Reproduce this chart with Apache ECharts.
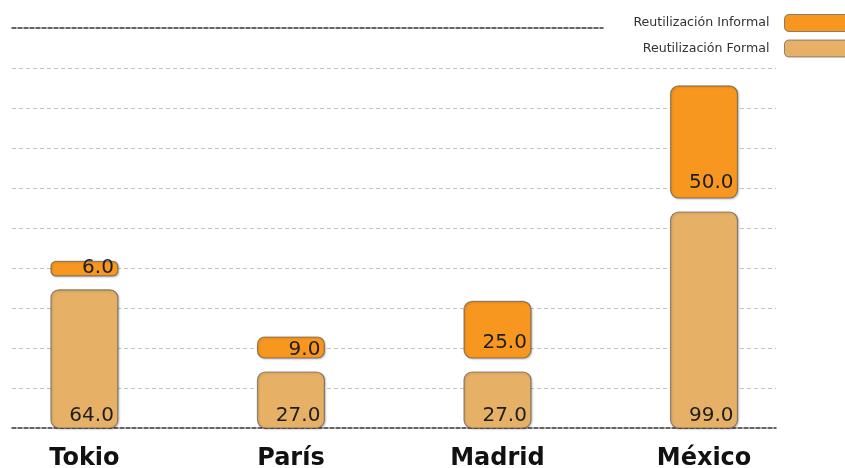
<!DOCTYPE html>
<html>
<head>
<meta charset="utf-8">
<script src="https://cdn.jsdelivr.net/npm/echarts@6/dist/echarts.min.js"></script>
<style>
html,body{margin:0;padding:0;background:#fff;}
#chart{width:845px;height:468px;}
</style>
</head>
<body>
<div id="chart"></div>
<script>
// ---- data ----
const categories = ['Tokio', 'París', 'Madrid', 'México'];
const formal = [64.0, 27.0, 27.0, 99.0];   // Reutilización Formal
const informal = [6.0, 9.0, 25.0, 50.0];   // Reutilización Informal
const seriesNames = ['Reutilización Informal', 'Reutilización Formal'];

// ---- style ----
const COLOR_INFORMAL = '#F7971F';
const COLOR_FORMAL = '#E6B066';
const BAR_HALF = 0.162; // half bar width in x-axis units
const FONT = 'DejaVu Sans';

function makeRender(kind, color) {
  return function (params, api) {
    const i = api.value(0), v = api.value(1), base = api.value(2);
    const pA = api.coord([i - BAR_HALF, base]);
    const pB = api.coord([i + BAR_HALF, base + v]);
    const x = pA[0], w = pB[0] - pA[0];
    let bottom, top;
    if (kind === 'formal') { bottom = pA[1]; top = pB[1] + 4; }
    else { bottom = pA[1] - 10; top = pB[1] - 11; }
    const h = bottom - top;
    let pad = kind === 'formal' ? 2 : (h > 40 ? 5 : -2);
    return {
      type: 'group',
      children: [
        {
          type: 'rect',
          shape: { x: x, y: top, width: w, height: h, r: Math.min(8, h / 3) },
          style: { fill: color, stroke: 'rgba(70,70,70,0.55)', lineWidth: 1.2,
                   shadowColor: 'rgba(0,0,0,0.25)', shadowBlur: 2, shadowOffsetX: 1, shadowOffsetY: 1 }
        },
        {
          type: 'text',
          x: x + w - 4,
          y: bottom - pad,
          style: { text: v.toFixed(1), font: '20px "' + FONT + '"', fill: '#1e1e1e',
                   align: 'right', verticalAlign: 'bottom' }
        }
      ]
    };
  };
}

const chart = echarts.init(document.getElementById('chart'));
const XMIN = -0.3505, XMAX = 3.3484;
chart.setOption({
  animation: false,
  backgroundColor: '#fff',
  legend: {
    orient: 'vertical',
    right: -25,
    top: 9,
    align: 'right',
    itemWidth: 80,
    itemHeight: 17,
    itemGap: 7.5,
    icon: 'roundRect',
    itemStyle: { borderColor: 'rgba(70,70,70,0.6)', borderWidth: 1 },
    textStyle: { fontFamily: FONT, fontSize: 12.6, color: '#333', padding: [0, 10, 0, 0] },
    data: seriesNames
  },
  grid: [
    { left: 12, right: 69, top: 28, bottom: 40, outerBoundsMode: 'none', containLabel: false },
    { left: 12, right: 242, top: 28, height: 20, outerBoundsMode: 'none', containLabel: false }
  ],
  xAxis: [
    {
      type: 'value', gridIndex: 0, min: XMIN, max: XMAX,
      splitLine: { show: false },
      axisTick: { show: false },
      axisLine: { show: true, onZero: false, lineStyle: { color: '#333', width: 1.5, type: [4, 2] } },
      axisLabel: {
        customValues: [0, 1, 2, 3],
        formatter: function (v) { return categories[Math.round(v)] || ''; },
        fontFamily: FONT, fontWeight: 'bold', fontSize: 24, color: '#111', margin: 19,
        showMinLabel: true, showMaxLabel: true
      }
    },
    {
      type: 'value', gridIndex: 1, position: 'top', min: 0, max: 1,
      splitLine: { show: false }, axisTick: { show: false }, axisLabel: { show: false },
      axisLine: { show: true, onZero: false, lineStyle: { color: '#333', width: 1.5, type: [4, 2] } }
    }
  ],
  yAxis: [
    {
      type: 'value', gridIndex: 0, min: 0, max: 180, interval: 18,
      axisLine: { show: false }, axisTick: { show: false }, axisLabel: { show: false },
      splitLine: { show: true, showMinLine: false, showMaxLine: false,
                   lineStyle: { color: '#c4c4c4', width: 1, type: [4, 3] } }
    },
    {
      type: 'value', gridIndex: 1, min: 0, max: 1, show: false
    }
  ],
  series: [
    {
      name: seriesNames[1], type: 'custom', xAxisIndex: 0, yAxisIndex: 0,
      itemStyle: { color: COLOR_FORMAL },
      renderItem: makeRender('formal', COLOR_FORMAL),
      encode: { x: 0, y: 1 },
      data: formal.map(function (v, i) { return [i, v, 0]; })
    },
    {
      name: seriesNames[0], type: 'custom', xAxisIndex: 0, yAxisIndex: 0,
      itemStyle: { color: COLOR_INFORMAL },
      renderItem: makeRender('informal', COLOR_INFORMAL),
      encode: { x: 0, y: 1 },
      data: informal.map(function (v, i) { return [i, v, formal[i]]; })
    }
  ]
});
</script>
</body>
</html>
